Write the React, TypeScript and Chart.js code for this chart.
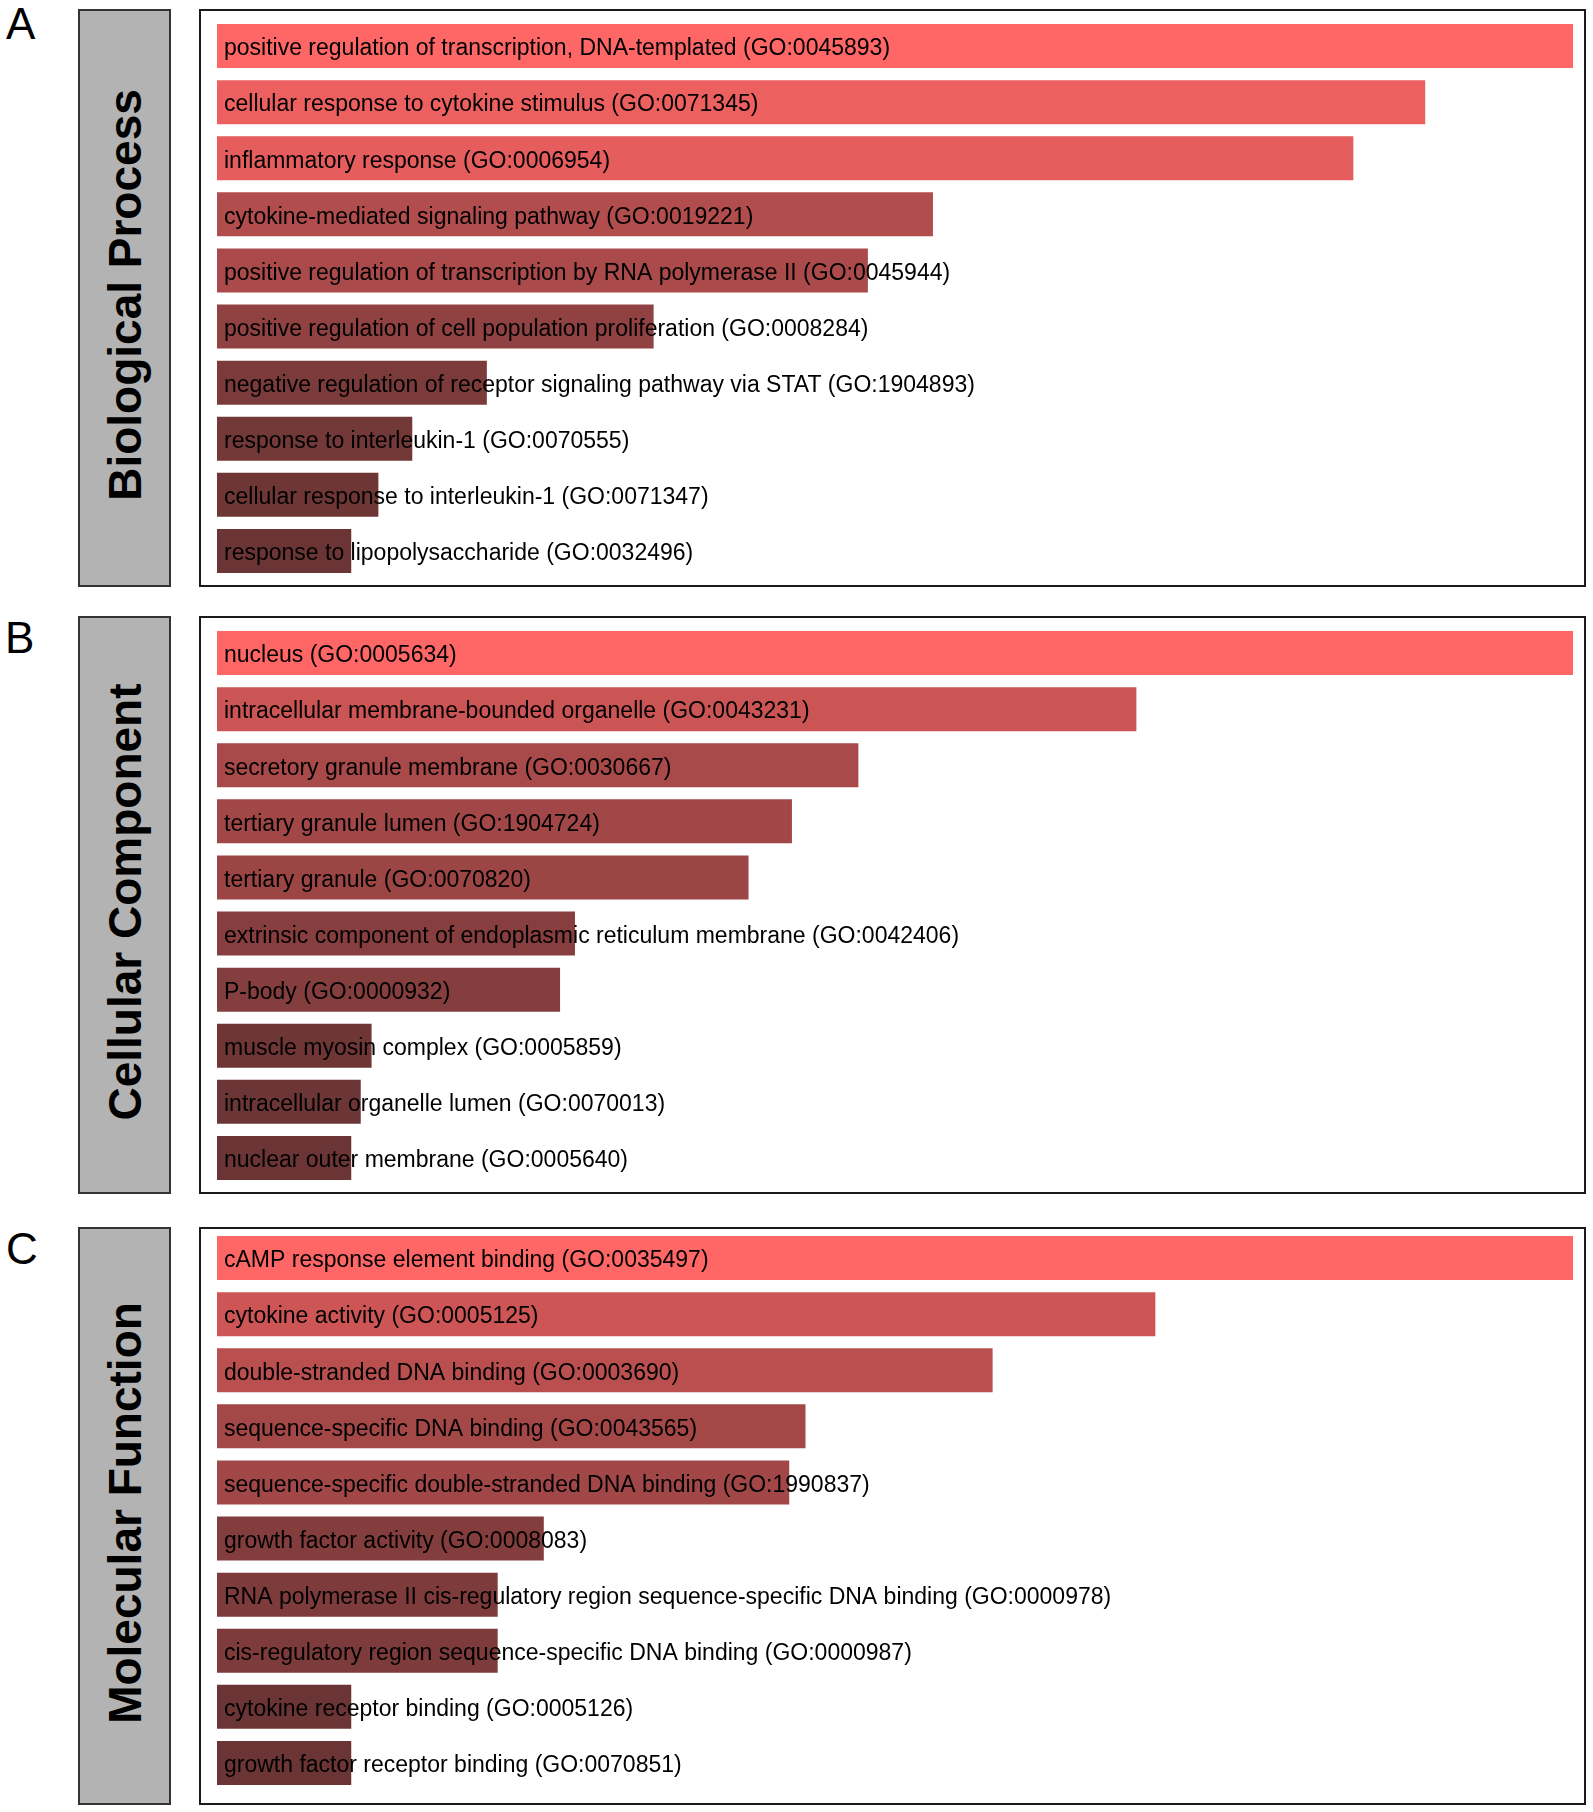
import React, { useEffect, useRef } from "react";
import { Chart, registerables } from "chart.js";

Chart.register(...registerables);

// ---------- data ----------
const bpTerms = [
  "positive regulation of transcription, DNA-templated (GO:0045893)",
  "cellular response to cytokine stimulus (GO:0071345)",
  "inflammatory response (GO:0006954)",
  "cytokine-mediated signaling pathway (GO:0019221)",
  "positive regulation of transcription by RNA polymerase II (GO:0045944)",
  "positive regulation of cell population proliferation (GO:0008284)",
  "negative regulation of receptor signaling pathway via STAT (GO:1904893)",
  "response to interleukin-1 (GO:0070555)",
  "cellular response to interleukin-1 (GO:0071347)",
  "response to lipopolysaccharide (GO:0032496)",
];
const bpScores = [10.0, 8.91, 8.38, 5.28, 4.8, 3.22, 1.99, 1.44, 1.19, 0.99];

const ccTerms = [
  "nucleus (GO:0005634)",
  "intracellular membrane-bounded organelle (GO:0043231)",
  "secretory granule membrane (GO:0030667)",
  "tertiary granule lumen (GO:1904724)",
  "tertiary granule (GO:0070820)",
  "extrinsic component of endoplasmic reticulum membrane (GO:0042406)",
  "P-body (GO:0000932)",
  "muscle myosin complex (GO:0005859)",
  "intracellular organelle lumen (GO:0070013)",
  "nuclear outer membrane (GO:0005640)",
];
const ccScores = [10.0, 6.78, 4.73, 4.24, 3.92, 2.64, 2.53, 1.14, 1.06, 0.99];

const mfTerms = [
  "cAMP response element binding (GO:0035497)",
  "cytokine activity (GO:0005125)",
  "double-stranded DNA binding (GO:0003690)",
  "sequence-specific DNA binding (GO:0043565)",
  "sequence-specific double-stranded DNA binding (GO:1990837)",
  "growth factor activity (GO:0008083)",
  "RNA polymerase II cis-regulatory region sequence-specific DNA binding (GO:0000978)",
  "cis-regulatory region sequence-specific DNA binding (GO:0000987)",
  "cytokine receptor binding (GO:0005126)",
  "growth factor receptor binding (GO:0070851)",
];
const mfScores = [10.0, 6.92, 5.72, 4.34, 4.22, 2.41, 2.07, 2.07, 0.99, 0.99];

const panelLetters = ["A", "B", "C"];
const panelTitles = ["Biological Process", "Cellular Component", "Molecular Function"];

// ---------- styling ----------
const FONT = "'Liberation Sans', Arial, Helvetica, sans-serif";

function barColor(v: number, max: number): string {
  const t = v / max;
  const r = Math.round(92 + 163 * t);
  const g = Math.round(48 + 54 * t);
  return `rgb(${r},${g},${g})`;
}

// draws each category label inside its bar, on top of the bars
const inBarLabels = {
  id: "inBarLabels",
  afterDatasetsDraw(chart: any) {
    const { ctx, chartArea, scales } = chart;
    const yScale = scales.y;
    const labels: string[] = chart.data.labels;
    ctx.save();
    ctx.font = `23px ${FONT}`;
    ctx.fillStyle = "#000";
    ctx.textAlign = "left";
    ctx.textBaseline = "middle";
    labels.forEach((lab, i) => {
      const y = yScale.getPixelForValue(i);
      ctx.fillText(lab, chartArea.left + 7, y + 3);
    });
    ctx.restore();
  },
};

function BarPanel({ terms, scores, top }: { terms: string[]; scores: number[]; top: number }) {
  const ref = useRef<HTMLCanvasElement | null>(null);
  useEffect(() => {
    if (!ref.current) return;
    const max = Math.max(...scores);
    const chart = new Chart(ref.current, {
      type: "bar",
      data: {
        labels: terms,
        datasets: [
          {
            data: scores,
            backgroundColor: scores.map((v) => barColor(v, max)),
            borderWidth: 0,
            barPercentage: 44 / 56.1,
            categoryPercentage: 1,
          },
        ],
      },
      options: {
        indexAxis: "y",
        responsive: false,
        maintainAspectRatio: false,
        animation: false,
        events: [],
        layout: { padding: 0 },
        plugins: { legend: { display: false }, tooltip: { enabled: false } },
        scales: {
          x: { display: false, min: 0, max: max },
          y: { display: false },
        },
      },
      plugins: [inBarLabels],
    } as any);
    return () => chart.destroy();
  }, []);
  return (
    <canvas
      ref={ref}
      width={1356}
      height={561}
      style={{ position: "absolute", left: 217, top, width: 1356, height: 561 }}
    />
  );
}

const panels = [
  { terms: bpTerms, scores: bpScores, boxTop: 9, chartTop: 18, letterTop: 2, letterLeft: 6 },
  { terms: ccTerms, scores: ccScores, boxTop: 616, chartTop: 625, letterTop: 616, letterLeft: 5 },
  { terms: mfTerms, scores: mfScores, boxTop: 1227, chartTop: 1230, letterTop: 1227, letterLeft: 6 },
];

export default function App() {
  useEffect(() => {
    document.body.style.margin = "0";
  }, []);
  return (
    <div
      style={{
        position: "relative",
        width: 1593,
        height: 1812,
        background: "#fff",
        overflow: "hidden",
        fontFamily: FONT,
      }}
    >
      {panels.map((p, i) => (
        <React.Fragment key={i}>
          <div
            style={{
              position: "absolute",
              left: p.letterLeft,
              top: p.letterTop,
              fontSize: 44,
              lineHeight: "44px",
              color: "#000",
              fontFamily: FONT,
            }}
          >
            {panelLetters[i]}
          </div>
          <div
            style={{
              position: "absolute",
              left: 78,
              top: p.boxTop,
              width: 93,
              height: 578,
              boxSizing: "border-box",
              border: "2px solid #333",
              background: "#b3b3b3",
              paddingBottom: 6,
              display: "flex",
              alignItems: "center",
              justifyContent: "center",
            }}
          >
            <span
              style={{
                display: "inline-block",
                transform: "rotate(-90deg)",
                whiteSpace: "nowrap",
                fontWeight: "bold",
                fontSize: 46,
                color: "#000",
                fontFamily: FONT,
              }}
            >
              {panelTitles[i]}
            </span>
          </div>
          <div
            style={{
              position: "absolute",
              left: 199,
              top: p.boxTop,
              width: 1387,
              height: 578,
              boxSizing: "border-box",
              border: "2px solid #1a1a1a",
              background: "#fff",
            }}
          />
          <BarPanel terms={p.terms} scores={p.scores} top={p.chartTop} />
        </React.Fragment>
      ))}
    </div>
  );
}
